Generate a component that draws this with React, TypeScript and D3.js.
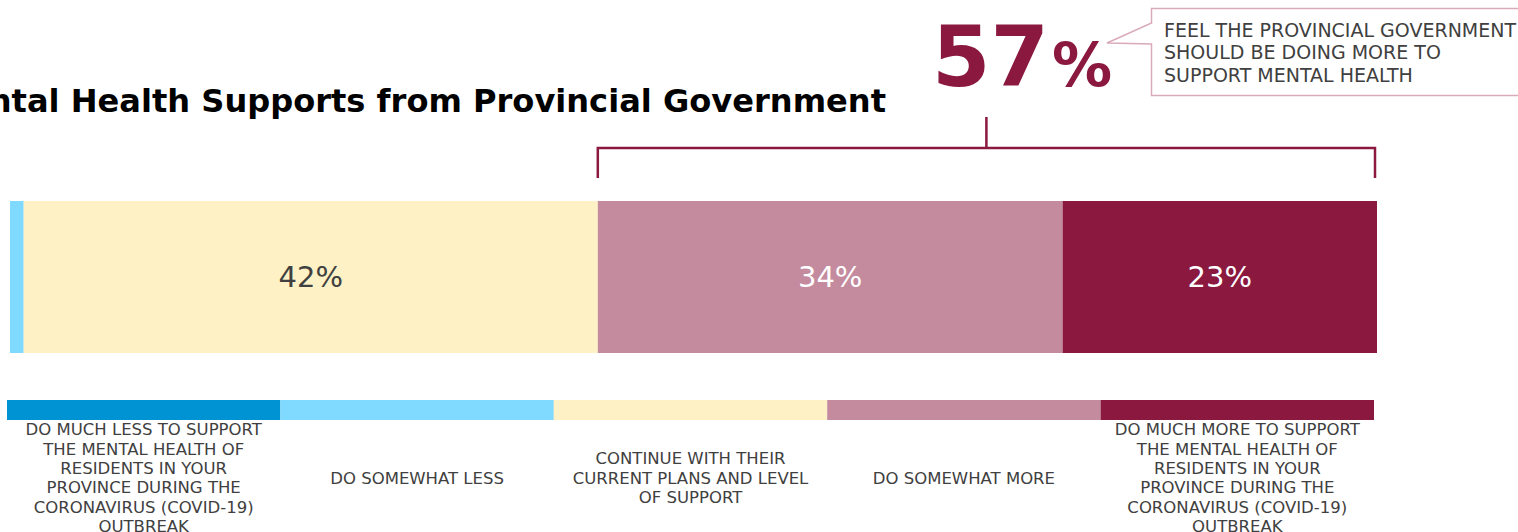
import React from "react";
import * as d3 from "d3";

const categories = [
  "Do much less",
  "Do somewhat less",
  "Continue",
  "Do somewhat more",
  "Do much more",
];
const values = [0, 1, 42, 34, 23];
const legendLabels: string[][] = [
  [
    "DO MUCH LESS TO SUPPORT",
    "THE MENTAL HEALTH OF",
    "RESIDENTS IN YOUR",
    "PROVINCE DURING THE",
    "CORONAVIRUS (COVID-19)",
    "OUTBREAK",
  ],
  ["DO SOMEWHAT LESS"],
  ["CONTINUE WITH THEIR", "CURRENT PLANS AND LEVEL", "OF SUPPORT"],
  ["DO SOMEWHAT MORE"],
  [
    "DO MUCH MORE TO SUPPORT",
    "THE MENTAL HEALTH OF",
    "RESIDENTS IN YOUR",
    "PROVINCE DURING THE",
    "CORONAVIRUS (COVID-19)",
    "OUTBREAK",
  ],
];
const colors = ["#0093D4", "#80D9FE", "#FEF1C5", "#C48A9D", "#8B183F"];
const labelColors = ["#ffffff", "#404040", "#404040", "#ffffff", "#ffffff"];
const titleText = "Mental Health Supports from Provincial Government";
const netValue = 57;
const calloutLines = [
  "FEEL THE PROVINCIAL GOVERNMENT",
  "SHOULD BE DOING MORE TO",
  "SUPPORT MENTAL HEALTH",
];

const W = 1518;
const H = 532;
const FONT = "'DejaVu Sans', Verdana, sans-serif";

export default function App() {
  const x = d3.scaleLinear().domain([0, 100]).range([10, 1377]);
  const stackData = [
    Object.fromEntries(categories.map((c, i) => [c, values[i]])),
  ];
  const series = d3.stack<any>().keys(categories)(stackData as any);
  const legendX = d3.scaleBand().domain(categories).range([7, 1374]).padding(0);

  const barTop = 201;
  const barH = 152;
  const moreStart = series[3][0][0];
  const bx0 = x(moreStart);
  const bx1 = x(100) - 2;
  const bmid = (bx0 + bx1) / 2;
  const lineH = 19.4;
  const labelCenterY = 478;
  const maroon = "#8B183F";

  return (
    <svg
      width={W}
      height={H}
      style={{ position: "absolute", left: 0, top: 0, background: "#fff" }}
      fontFamily={FONT}
    >
      <text
        x={886}
        y={112}
        textAnchor="end"
        fontSize={32.1}
        fontWeight="bold"
        fill="#000"
      >
        {titleText}
      </text>

      {/* big number */}
      <text x={932} y={86} fontSize={84} fontWeight="bold" fill={maroon}>
        {netValue}
      </text>
      <text x={1052} y={86} fontSize={60} fontWeight="bold" fill={maroon}>
        %
      </text>

      {/* callout */}
      <path
        d={`M${W + 5},8.5 L1151.5,8.5 L1151.5,23 L1107,43 L1151.5,44 L1151.5,95.5 L${W + 5},95.5`}
        fill="#fff"
        stroke="#D9AABB"
        strokeWidth={1.5}
      />
      {calloutLines.map((l, i) => (
        <text key={i} x={1164} y={36.5 + i * 22.5} fontSize={19} fill="#404040">
          {l}
        </text>
      ))}

      {/* bracket */}
      <path
        d={`M${bx0},178 L${bx0},148 L${bx1},148 L${bx1},178 M${bmid},148 L${bmid},117`}
        fill="none"
        stroke={maroon}
        strokeWidth={2.5}
      />

      {/* stacked bar */}
      {series.map((s, i) => {
        const [a, b] = s[0];
        const w = x(b) - x(a);
        return (
          <g key={categories[i]}>
            {w > 0 && (
              <rect x={x(a)} y={barTop} width={w} height={barH} fill={colors[i]} />
            )}
            {values[i] >= 5 && (
              <text
                x={(x(a) + x(b)) / 2}
                y={barTop + barH / 2}
                dy="0.35em"
                textAnchor="middle"
                fontSize={29}
                fill={labelColors[i]}
              >
                {values[i]}%
              </text>
            )}
          </g>
        );
      })}

      {/* legend */}
      {categories.map((c, i) => {
        const lx = legendX(c)!;
        const bw = legendX.bandwidth();
        const lines = legendLabels[i];
        const startY = labelCenterY - ((lines.length - 1) * lineH) / 2;
        return (
          <g key={c}>
            <rect x={lx} y={400} width={bw} height={20} fill={colors[i]} />
            <text textAnchor="middle" fontSize={16.5} fill="#404040">
              {lines.map((l, j) => (
                <tspan key={j} x={lx + bw / 2} y={startY + j * lineH} dy="0.35em">
                  {l}
                </tspan>
              ))}
            </text>
          </g>
        );
      })}
    </svg>
  );
}
